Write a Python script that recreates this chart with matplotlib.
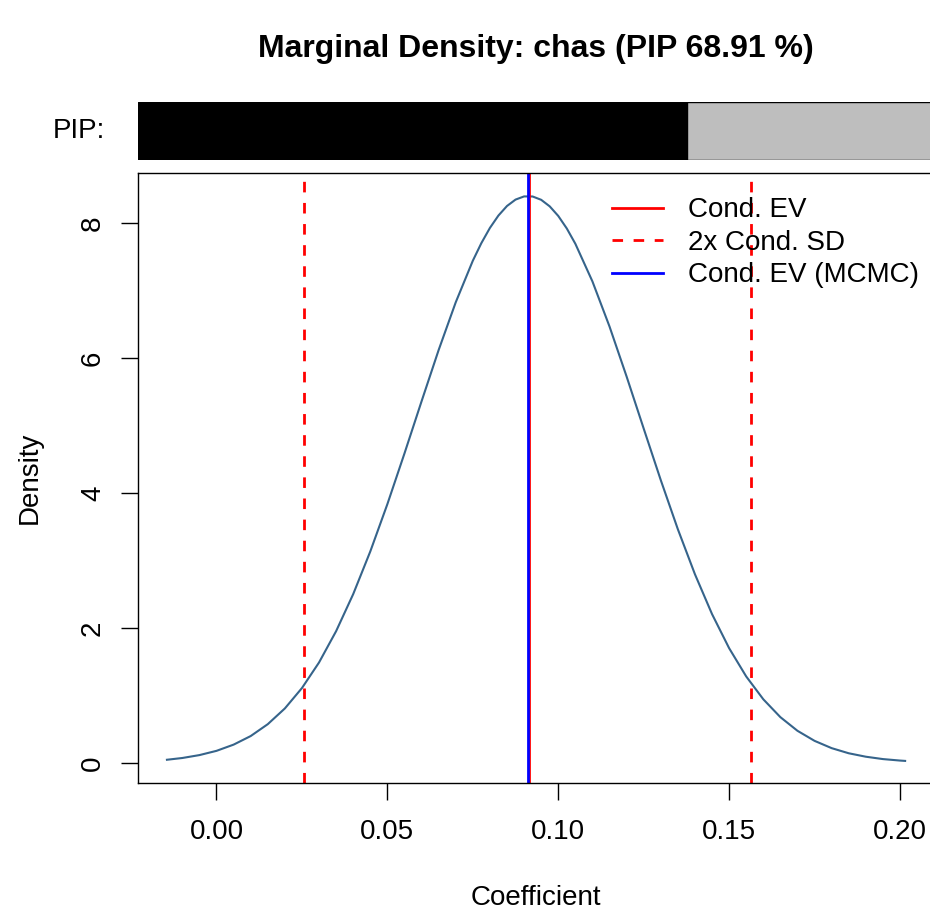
import matplotlib
matplotlib.use("Agg")
import matplotlib.pyplot as plt
from matplotlib.lines import Line2D

plt.rcParams['font.family'] = ['Liberation Sans', 'DejaVu Sans']

# ---- data ----
coef_x = [-0.0145, -0.010, -0.005, 0.000, 0.005, 0.010, 0.015, 0.020, 0.025,
          0.030, 0.035, 0.040, 0.045, 0.050, 0.055, 0.060, 0.065, 0.070,
          0.075, 0.0775, 0.080, 0.0825, 0.085, 0.0875, 0.090, 0.0925, 0.095,
          0.0975, 0.100, 0.1025, 0.105, 0.110, 0.115,
          0.120, 0.125, 0.130, 0.135, 0.140, 0.145, 0.150, 0.155, 0.160,
          0.165, 0.170, 0.175, 0.180, 0.185, 0.190, 0.195, 0.200, 0.2015]
density_y = [0.048, 0.074, 0.117, 0.180, 0.272, 0.399, 0.575, 0.808, 1.110,
             1.489, 1.953, 2.502, 3.134, 3.835, 4.586, 5.358, 6.118, 6.825,
             7.441, 7.702, 7.927, 8.111, 8.252, 8.347, 8.394, 8.393, 8.344,
             8.247, 8.105, 7.919, 7.693, 7.135, 6.467,
             5.726, 4.955, 4.191, 3.463, 2.796, 2.206, 1.701, 1.282, 0.944,
             0.679, 0.477, 0.328, 0.220, 0.144, 0.093, 0.058, 0.036, 0.031]
cond_ev = 0.09135
cond_ev_mcmc = 0.0912
sd_bounds = [0.0256, 0.1564]
pip = 68.91
var_name = "chas"
x_ticks = [0.00, 0.05, 0.10, 0.15, 0.20]
x_tick_labels = ["0.00", "0.05", "0.10", "0.15", "0.20"]
y_ticks = [0, 2, 4, 6, 8]
legend_labels = ["Cond. EV", "2x Cond. SD", "Cond. EV (MCMC)"]

W, H = 930, 913
fig = plt.figure(figsize=(W / 100, H / 100), dpi=100)

# main axes (right edge extends beyond the figure, as in the reference)
L, R_, T, B = 138, 934, 173, 782.5
ax = fig.add_axes([L / W, 1 - B / H, (R_ - L) / W, (B - T) / H])
ax.plot(coef_x, density_y, color='#36648B', lw=1.5)
ax.axvline(cond_ev, color='red', lw=2)
for b in sd_bounds:
    ax.axvline(b, color='red', lw=2, dashes=(3.8, 3.8))
ax.axvline(cond_ev_mcmc, color='blue', lw=2)

ax.set_xlim(-0.02297, 0.20995)
ax.set_ylim(-0.289, 8.741)
ax.set_xticks(x_ticks)
ax.set_xticklabels(x_tick_labels)
ax.set_yticks(y_ticks)
ax.set_yticklabels([str(v) for v in y_ticks], rotation=90, va='center')
ax.tick_params(axis='both', labelsize=20, length=12, width=1.0, direction='out')
ax.tick_params(axis='x', pad=14)
ax.tick_params(axis='y', pad=11)
for s in ax.spines.values():
    s.set_linewidth(1.0)
ax.set_xlabel("Coefficient", fontsize=20, labelpad=29)
ax.set_ylabel("Density", fontsize=20, labelpad=27)

handles = [Line2D([], [], color='red', lw=2),
           Line2D([], [], color='red', lw=2, dashes=(3.8, 3.8)),
           Line2D([], [], color='blue', lw=2)]
fig.legend(handles, legend_labels, loc='upper left',
           bbox_to_anchor=(611.7 / W, 1 - 197.5 / H), frameon=False,
           fontsize=20, handlelength=1.84, handletextpad=0.9,
           labelspacing=0.23, borderpad=0, borderaxespad=0)

# PIP bar
pip_top, pip_bot = 102.5, 160
axp = fig.add_axes([L / W, 1 - pip_bot / H, (R_ - L) / W, (pip_bot - pip_top) / H])
frac = pip / 100
axp.barh([0], [frac], left=[0], height=1, color='black', edgecolor='black', lw=1)
axp.barh([0], [1 - frac], left=[frac], height=1, color='#BEBEBE', edgecolor='black', lw=1)
axp.set_xlim(0, 1)
axp.set_ylim(-0.5, 0.5)
axp.axis('off')
fig.text(105 / W, 1 - 131 / H, "PIP:", ha='right', va='center', fontsize=20)

fig.text(536 / W, 1 - 49 / H, f"Marginal Density: {var_name} (PIP {pip:.2f} %)",
         ha='center', va='center', fontsize=23, fontweight='bold')

fig.savefig("out.png", dpi=100)
